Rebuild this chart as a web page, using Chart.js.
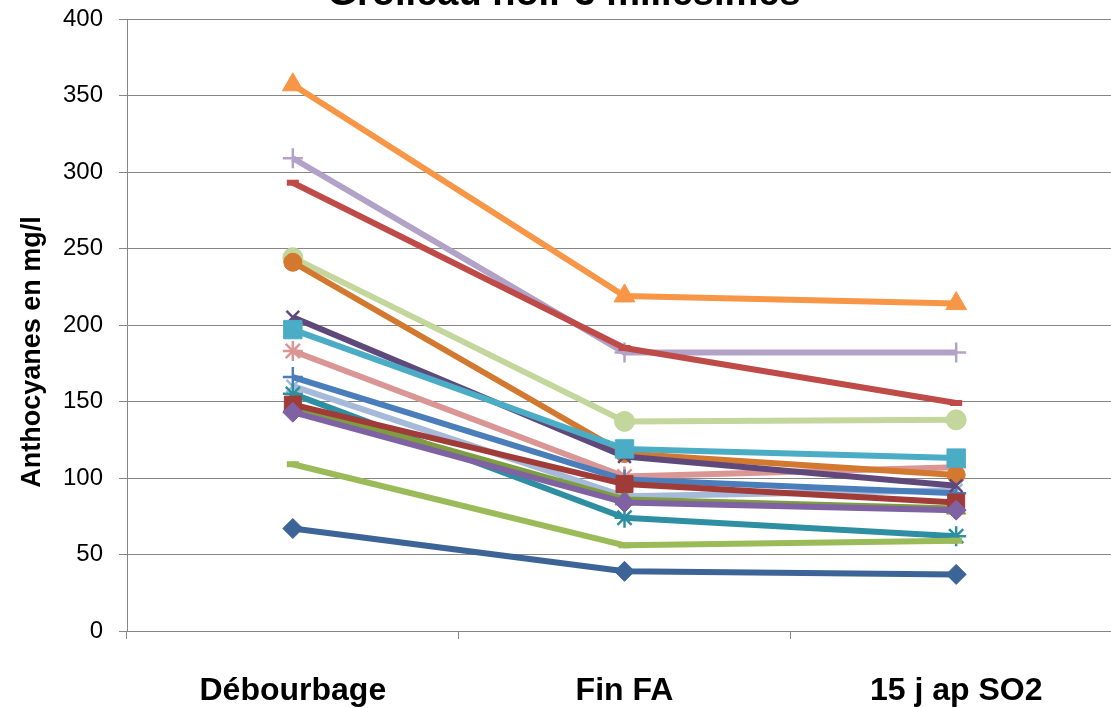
<!DOCTYPE html>
<html>
<head>
<meta charset="utf-8">
<script src="https://cdn.jsdelivr.net/npm/chart.js@4/dist/chart.umd.min.js"></script>
<style>
  html, body { margin: 0; padding: 0; background: #fff; overflow: hidden; }
  #wrap { width: 1111px; height: 708px; overflow: hidden; }
</style>
</head>
<body>
<div id="wrap"><canvas id="lineChart" width="1140" height="708"></canvas></div>
<script>
'use strict';

// chart texts
var chartTitle = 'Grolleau noir 3 millésimes';
var yAxisTitle = 'Anthocyanes en mg/l';

// x categories
var stages = ['Débourbage', 'Fin FA', '15 j ap SO2'];

// y axis range
var yMin = 0;
var yMax = 400;
var yStep = 50;

// one array per lot (mg/l)
var lot01 = [67, 39, 37];
var lot02 = [293, 185, 149];
var lot03 = [109, 56, 59];
var lot04 = [143, 84, 79];
var lot05 = [197, 119, 113];
var lot06 = [357, 219, 214];
var lot07 = [205, 114, 95];
var lot08 = [148, 96, 84];
var lot09 = [147, 86, 80];
var lot10 = [155, 74, 62];
var lot11 = [241, 116, 102];
var lot12 = [166, 99, 90];
var lot13 = [183, 101, 107];
var lot14 = [160, 88, 92];
var lot15 = [244, 137, 138];
var lot16 = [309, 182, 182];

// styling of each line : colour, marker, marker size
var seriesStyle = [
  {data: lot01, color: '#3C6496', marker: 'rectRot', r: 10},
  {data: lot02, color: '#BE4B48', marker: 'line', r: 6},
  {data: lot03, color: '#9BBB59', marker: 'line', r: 6},
  {data: lot04, color: '#7E62A1', marker: 'rectRot', r: 10},
  {data: lot05, color: '#4BACC6', marker: 'rect', r: 13},
  {data: lot06, color: '#F79646', marker: 'triangle', r: 12},
  {data: lot07, color: '#5F497A', marker: 'crossRot', r: 9},
  {data: lot08, color: '#A03B38', marker: 'rect', r: 12},
  {data: lot09, color: '#7E9D3E', marker: 'triangle', r: 11},
  {data: lot10, color: '#2E8FA3', marker: 'star', r: 10},
  {data: lot11, color: '#D2782F', marker: 'circle', r: 9},
  {data: lot12, color: '#4A7EBB', marker: 'cross', r: 10},
  {data: lot13, color: '#D99694', marker: 'star', r: 10},
  {data: lot14, color: '#A5B9D9', marker: 'crossRot', r: 9},
  {data: lot15, color: '#C3D69B', marker: 'circle', r: 10},
  {data: lot16, color: '#B3A2C7', marker: 'cross', r: 10}
];

var datasets = seriesStyle.map(function(s) {
  var stroked = (s.marker === 'cross' || s.marker === 'crossRot' || s.marker === 'star' || s.marker === 'line');
  return {
    data: s.data,
    borderColor: s.color,
    backgroundColor: s.color,
    borderWidth: 6,
    pointStyle: s.marker,
    pointRadius: s.r,
    pointHoverRadius: s.r,
    pointBackgroundColor: s.color,
    pointBorderColor: s.color,
    pointBorderWidth: s.marker === 'line' ? 6 : (stroked ? 2.5 : 1),
    tension: 0,
    fill: false
  };
});

// title (partly above the picture) and y axis title drawn by hand
var textPlugin = {
  id: 'texts',
  afterDraw: function(chart) {
    var c = chart.ctx;
    c.save();
    c.fillStyle = '#000';
    c.font = 'bold 38px "Liberation Sans", Arial, sans-serif';
    c.textAlign = 'center';
    c.textBaseline = 'alphabetic';
    c.fillText(chartTitle, 564, 5);
    c.translate(33, 352);
    c.rotate(-Math.PI / 2);
    c.font = 'bold 27px "Liberation Sans", Arial, sans-serif';
    c.textBaseline = 'middle';
    c.fillText(yAxisTitle, 0, 0);
    c.restore();
  }
};

var ctx = document.getElementById('lineChart').getContext('2d');
var chart = new Chart(ctx, {
  type: 'line',
  data: {labels: stages, datasets: datasets},
  plugins: [textPlugin],
  options: {
    responsive: false,
    animation: false,
    layout: {padding: {top: 19, right: 18, left: 0, bottom: 0}},
    plugins: {
      legend: {display: false},
      title: {display: false},
      tooltip: {enabled: false}
    },
    elements: {line: {borderJoinStyle: 'round'}},
    scales: {
      x: {
        offset: true,
        grid: {offset: true, drawOnChartArea: false, color: '#868686', tickLength: 8},
        border: {color: '#868686'},
        ticks: {
          color: '#000',
          padding: 33,
          font: {family: '"Liberation Sans", Arial, sans-serif', size: 32, weight: 'bold'}
        },
        afterFit: function(scale) {
          scale.height = 77;
          scale.paddingLeft = 0;
          scale.paddingRight = 0;
        }
      },
      y: {
        min: yMin,
        max: yMax,
        grid: {color: '#868686', tickLength: 8},
        border: {color: '#868686'},
        ticks: {
          stepSize: yStep,
          color: '#000',
          padding: 16,
          font: {family: '"Liberation Sans", Arial, sans-serif', size: 24}
        },
        afterFit: function(scale) {
          scale.width = 127;
          scale.paddingTop = 0;
          scale.paddingBottom = 0;
        }
      }
    }
  }
});
</script>
</body>
</html>
